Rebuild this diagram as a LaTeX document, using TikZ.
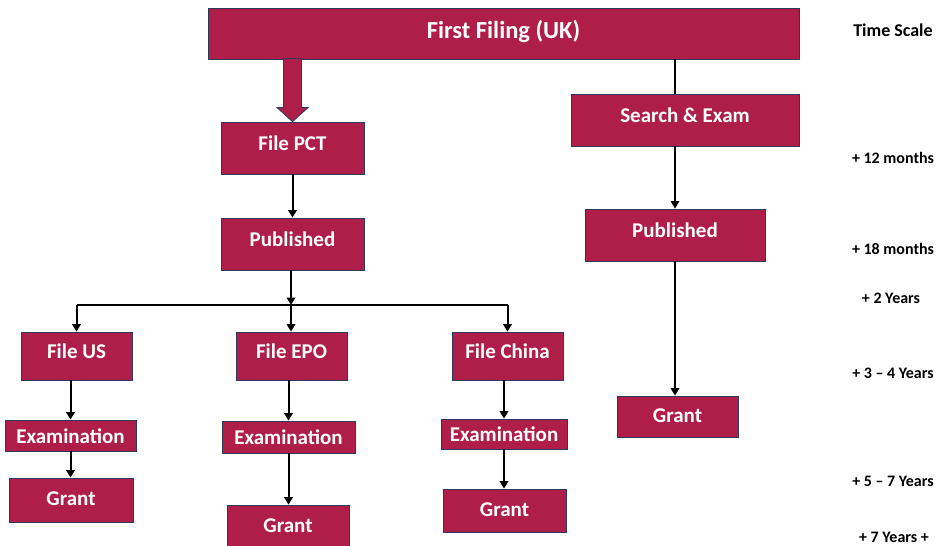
\documentclass[tikz,border=0pt]{standalone}
\usepackage{fontspec}
\setmainfont{Carlito}
\usetikzlibrary{arrows.meta,positioning}

\definecolor{crimson}{HTML}{AF1E48}
\definecolor{navy}{HTML}{2E3A5C}

\tikzset{
  stage/.style={draw=navy, fill=crimson, text=white, line width=0.8pt,
    font=\bfseries\fontsize{21}{24}\selectfont, inner sep=0pt,
    text height=15pt, text depth=4pt},
  lifted/.style={text depth=11pt},
  flow/.style={-{Triangle[length=7.5pt,width=8.5pt]}, line width=2pt},
  link/.style={line width=1.1pt},
  stamp/.style={font=\bfseries\fontsize{16}{18}\selectfont}
}

\begin{document}
\begin{tikzpicture}[x=1pt, y=-1pt]

\useasboundingbox (0,0) rectangle (945,546);

% first filing and the PCT route
\node[stage, minimum width=591pt, minimum height=51pt, font=\bfseries\fontsize{24.5}{27}\selectfont, text height=17pt, text depth=7pt] (first) at (503.5,33.5) {First Filing (UK)};

\node[stage, lifted, minimum width=143pt, minimum height=52pt] (pct) at (292.5,148) {File PCT};
\node[stage, lifted, minimum width=143pt, minimum height=52pt] (publ) at (292.5,244) {Published};

% block arrow into File PCT
\draw[draw=navy, fill=crimson, line width=0.8pt] (pct.north) -- ++(-15.5,-14) -- ++(6.5,0) -- ++(0,-49)
  -- ++(18,0) -- ++(0,49) -- ++(6.5,0) -- cycle;

\draw[flow] (pct) -- (publ);

% national phase
\node[stage, lifted, minimum width=111pt, minimum height=48pt] (us) at (76.5,356) {File US};
\node[stage, lifted, minimum width=111pt, minimum height=48pt] (epo) at (291.5,356) {File EPO};
\node[stage, lifted, minimum width=111pt, minimum height=48pt] (china) at (507.5,356) {File China};

\coordinate (bus) at (291,305);
\draw[flow] (publ.south -| bus) -- (bus);
\draw[link] (bus -| us.north) -- (bus -| china.north);
\draw[flow] (bus -| us.north) -- (us.north);
\draw[flow] (bus) -- (epo.north -| bus);
\draw[flow] (bus -| china.north) -- (china.north);

\node[stage, text depth=0pt, minimum width=131pt, minimum height=31pt] (examus) at (70.5,435.5) {Examination};
\node[stage, text depth=0pt, minimum width=133pt, minimum height=32pt] (examepo) at (288.5,437) {Examination};
\node[stage, text depth=0pt, minimum width=126pt, minimum height=30pt] (examcn) at (504,434) {Examination};

\node[stage, minimum width=124pt, minimum height=44pt] (grantus) at (71,500) {Grant};
\node[stage, minimum width=122pt, minimum height=44pt] (grantepo) at (288,527) {Grant};
\node[stage, minimum width=123pt, minimum height=43pt] (grantcn) at (504.5,510.5) {Grant};

\draw[flow] (examus.north |- us.south) -- (examus.north);
\draw[flow] (examepo.north |- epo.south) -- (examepo.north);
\draw[flow] (examcn.north |- china.south) -- (examcn.north);

\draw[flow] (examus.south) -- (examus.south |- grantus.north);
\draw[flow] (examepo.south) -- (examepo.south |- grantepo.north);
\draw[flow] (examcn.south) -- (examcn.south |- grantcn.north);

% UK route
\node[stage, lifted, minimum width=228pt, minimum height=52pt] (search) at (685,120) {Search \& Exam};
\node[stage, lifted, minimum width=180pt, minimum height=52pt] (pubr) at (675,235) {Published};
\node[stage, minimum width=121pt, minimum height=41pt] (grantr) at (677.5,416.5) {Grant};

\draw[link] (first.south -| pubr) -- (search.north -| pubr);
\draw[flow, line width=1.4pt] (pubr.north |- search.south) -- (pubr.north);
\draw[flow] (pubr.south) -- (pubr.south |- grantr.north);

% time scale
\node[font=\bfseries\fontsize{18}{20}\selectfont] (scale) at (893,30) {Time Scale};
\node[stamp] (t12) at (893,158) {+ 12 months};
\node[stamp] (t18) at (893,249) {+ 18 months};
\node[stamp] (t2) at (891,298) {+ 2 Years};
\node[stamp] (t34) at (893,373) {+ 3 – 4 Years};
\node[stamp] (t57) at (893,481) {+ 5 – 7 Years};
\node[stamp] (t7) at (894,537) {+ 7 Years +};

\end{tikzpicture}
\end{document}
